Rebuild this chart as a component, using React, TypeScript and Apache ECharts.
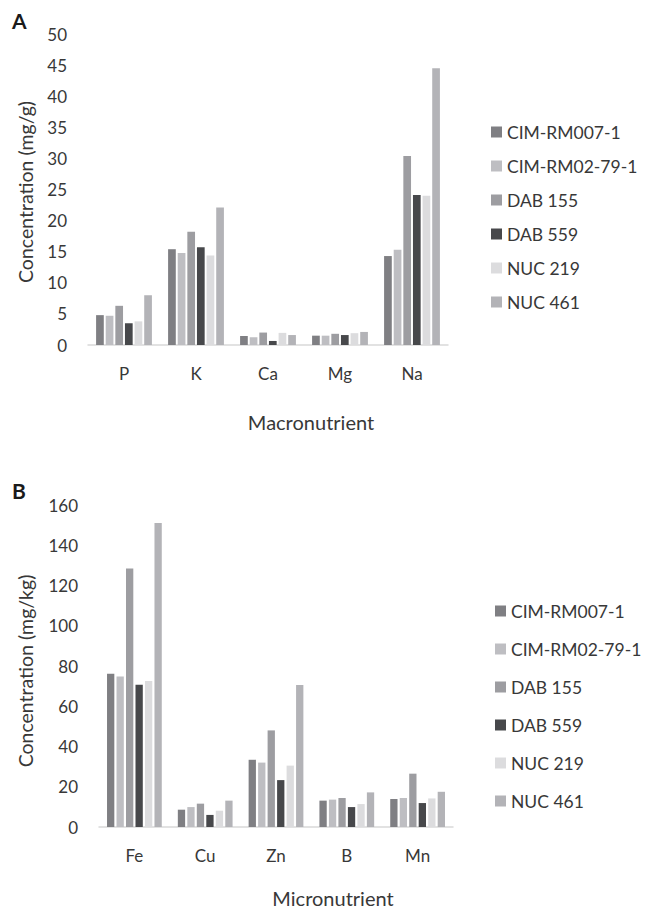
import React, { useEffect, useRef } from "react";
import * as echarts from "echarts";

const seriesNames = ["CIM-RM007-1", "CIM-RM02-79-1", "DAB 155", "DAB 559", "NUC 219", "NUC 461"];
const seriesColors = ["#7f7f83", "#bebec2", "#9d9da1", "#47484b", "#dcdcde", "#b3b3b7"];

const macroCategories = ["P", "K", "Ca", "Mg", "Na"];
const macroCIM007 = [4.8, 15.4, 1.45, 1.5, 14.3];
const macroCIM02 = [4.7, 14.8, 1.25, 1.5, 15.3];
const macroDAB155 = [6.3, 18.2, 2.0, 1.8, 30.4];
const macroDAB559 = [3.5, 15.7, 0.65, 1.6, 24.1];
const macroNUC219 = [3.8, 14.4, 1.95, 1.9, 24.0];
const macroNUC461 = [8.0, 22.1, 1.6, 2.1, 44.5];

const microCategories = ["Fe", "Cu", "Zn", "B", "Mn"];
const microCIM007 = [76.2, 8.6, 33.4, 13.1, 13.9];
const microCIM02 = [74.8, 9.9, 32.0, 13.6, 14.4];
const microDAB155 = [128.5, 11.6, 48.0, 14.4, 26.5];
const microDAB559 = [70.7, 6.0, 23.3, 9.9, 11.9];
const microNUC219 = [72.5, 8.1, 30.5, 11.4, 14.2];
const microNUC461 = [151, 13.1, 70.5, 17.2, 17.5];

const macroTicks = { min: 0, max: 50, interval: 5 };
const microTicks = { min: 0, max: 160, interval: 20 };

const FONT = "Lato, 'Open Sans', sans-serif";
const TXT = "#383838";

export default function App() {
  const ref = useRef<HTMLDivElement>(null);
  useEffect(() => {
    if (!ref.current) return;
    const chart = echarts.init(ref.current, undefined, { renderer: "svg" });
    const macroData = [macroCIM007, macroCIM02, macroDAB155, macroDAB559, macroNUC219, macroNUC461];
    const microData = [microCIM007, microCIM02, microDAB155, microDAB559, microNUC219, microNUC461];
    const series: any[] = [];
    macroData.forEach((d, i) => {
      series.push({
        type: "bar",
        name: seriesNames[i],
        xAxisIndex: 0,
        yAxisIndex: 0,
        data: d,
        barWidth: 7.7,
        barGap: "25%",
        itemStyle: { color: seriesColors[i] },
      });
    });
    microData.forEach((d, i) => {
      series.push({
        type: "bar",
        name: seriesNames[i],
        xAxisIndex: 1,
        yAxisIndex: 1,
        data: d,
        barWidth: 7.3,
        barGap: "30%",
        itemStyle: { color: seriesColors[i] },
      });
    });
    const legendCommon = {
      orient: "vertical",
      itemWidth: 11,
      itemHeight: 11,
      icon: "rect",
      selectedMode: false,
      textStyle: { fontFamily: FONT, fontSize: 17.5, color: TXT, lineHeight: 20 },
      data: seriesNames,
    };
    const axisLabelStyle = { fontFamily: FONT, fontSize: 17, color: TXT };
    chart.setOption({
      animation: false,
      textStyle: { fontFamily: FONT },
      grid: [
        { left: 88, right: 199, top: 34, bottom: 564 },
        { left: 99, right: 194, top: 505, bottom: 82 },
      ],
      legend: [
        { ...legendCommon, left: 486, top: 117, itemGap: 14 },
        { ...legendCommon, left: 490, top: 596, itemGap: 18 },
      ],
      xAxis: [
        {
          type: "category",
          gridIndex: 0,
          data: macroCategories,
          axisLine: { lineStyle: { color: "#d9d9d9", width: 1.5 } },
          axisTick: { show: false },
          axisLabel: { ...axisLabelStyle, margin: 20 },
        },
        {
          type: "category",
          gridIndex: 1,
          data: microCategories,
          axisLine: { lineStyle: { color: "#d9d9d9", width: 1.5 } },
          axisTick: { show: false },
          axisLabel: { ...axisLabelStyle, margin: 20 },
        },
      ],
      yAxis: [
        {
          type: "value",
          gridIndex: 0,
          ...macroTicks,
          splitLine: { show: false },
          axisLine: { show: false },
          axisTick: { show: false },
          axisLabel: { ...axisLabelStyle, margin: 21 },
        },
        {
          type: "value",
          gridIndex: 1,
          ...microTicks,
          splitLine: { show: false },
          axisLine: { show: false },
          axisTick: { show: false },
          axisLabel: { ...axisLabelStyle, margin: 21 },
        },
      ],
      graphic: [
        { type: "text", left: 12, top: 10, style: { text: "A", font: `bold 21px ${FONT}`, fill: "#1a1a1a" } },
        { type: "text", left: 12, top: 480, style: { text: "B", font: `bold 21px ${FONT}`, fill: "#1a1a1a" } },
        {
          type: "text",
          x: 25,
          y: 192,
          rotation: Math.PI / 2,
          style: { text: "Concentration (mg/g)", font: `19.5px ${FONT}`, fill: TXT, align: "center", verticalAlign: "middle" },
        },
        {
          type: "text",
          x: 25,
          y: 671,
          rotation: Math.PI / 2,
          style: { text: "Concentration (mg/kg)", font: `19.5px ${FONT}`, fill: TXT, align: "center", verticalAlign: "middle" },
        },
        {
          type: "text",
          x: 311,
          y: 422,
          style: { text: "Macronutrient", font: `20px ${FONT}`, fill: TXT, align: "center", verticalAlign: "middle" },
        },
        {
          type: "text",
          x: 333,
          y: 898,
          style: { text: "Micronutrient", font: `20px ${FONT}`, fill: TXT, align: "center", verticalAlign: "middle" },
        },
      ],
      series,
    });
    return () => chart.dispose();
  }, []);
  return (
    <div
      ref={ref}
      style={{ position: "fixed", left: 0, top: 0, width: 647, height: 909, background: "#ffffff" }}
    />
  );
}
